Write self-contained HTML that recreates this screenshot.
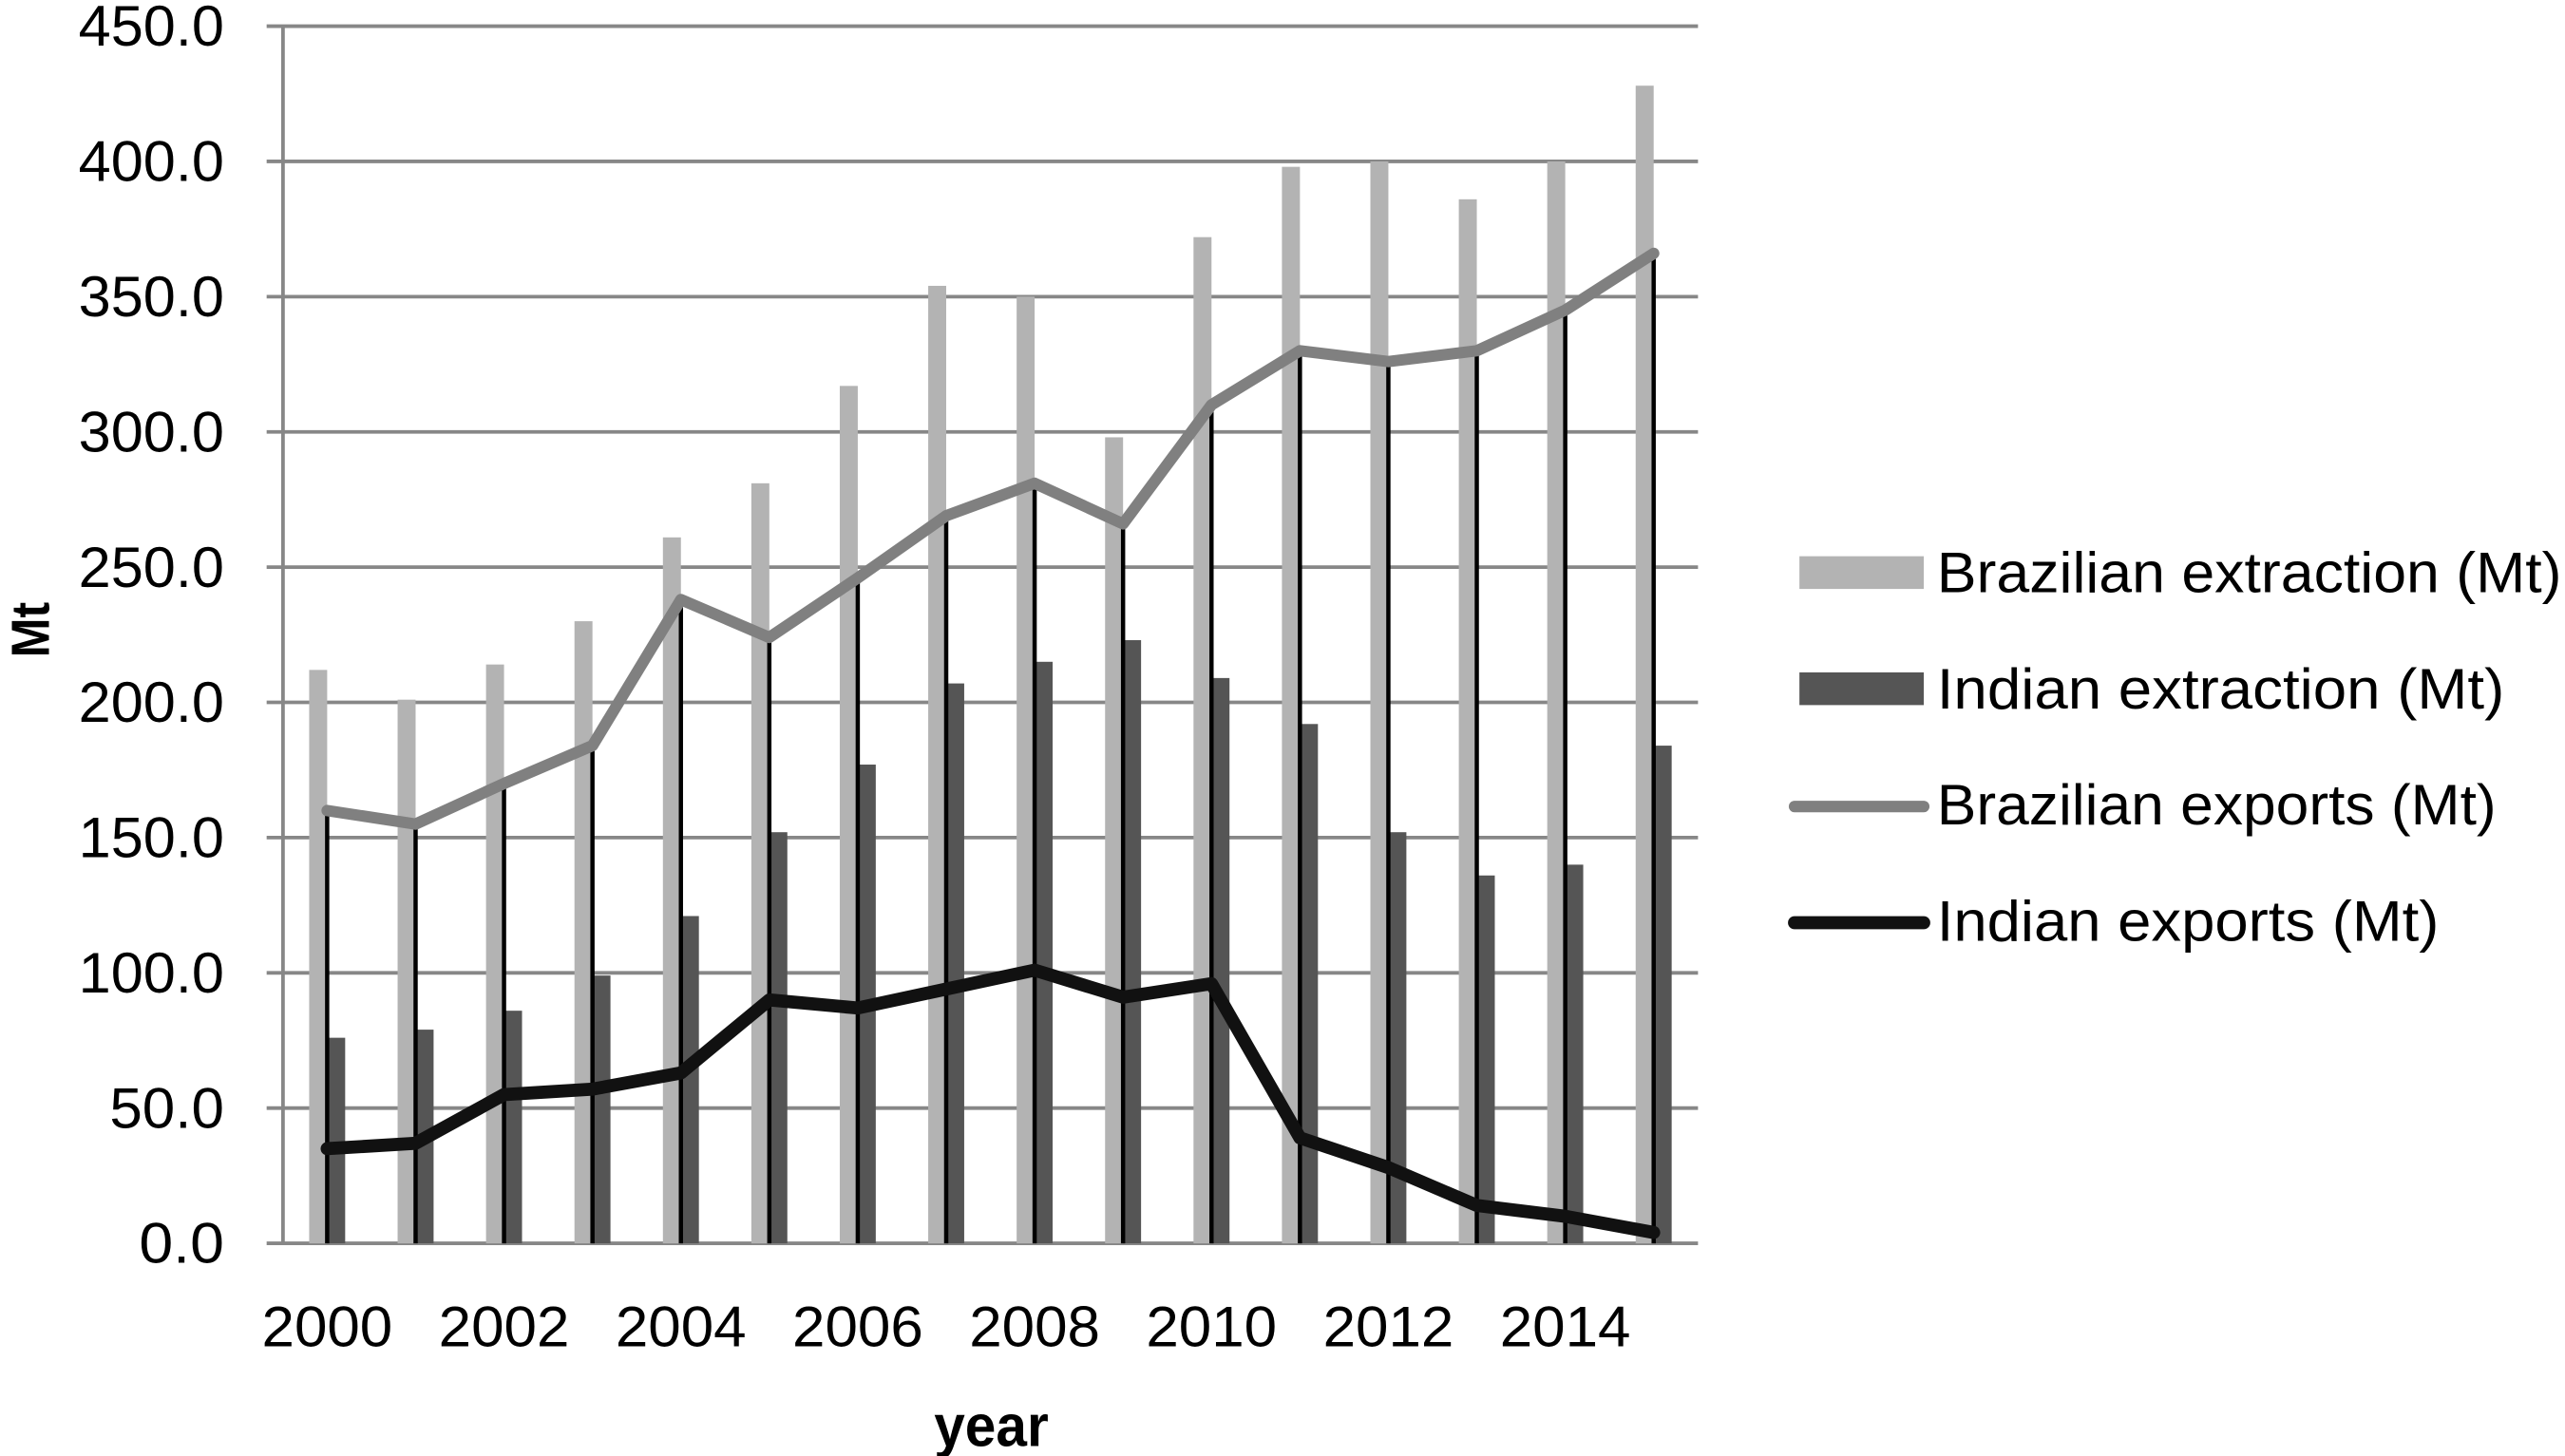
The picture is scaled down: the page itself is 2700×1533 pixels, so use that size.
<!DOCTYPE html>
<html><head><meta charset="utf-8"><style>html,body{margin:0;padding:0;background:#fff;}svg{display:block}</style></head>
<body>
<svg id="c" xmlns="http://www.w3.org/2000/svg" width="2700" height="1533" viewBox="0 0 1568 890" preserveAspectRatio="none" font-family="'Liberation Sans', sans-serif">
<g id="grid" stroke="#878787" stroke-width="2.2"></g>
<g id="bars"></g>
<g id="drops" stroke="#000" stroke-width="2.6"></g>
<polyline id="bre" fill="none" stroke="#808080" stroke-width="7" stroke-linejoin="round" stroke-linecap="round"/>
<polyline id="ine" fill="none" stroke="#111" stroke-width="8" stroke-linejoin="round" stroke-linecap="round"/>
<g id="ylab" font-size="35" fill="#000" text-anchor="end"></g>
<g id="xlab" font-size="35" fill="#000" text-anchor="middle"></g>
<text x="606" y="884" font-size="36" font-weight="bold" text-anchor="middle" textLength="70" lengthAdjust="spacingAndGlyphs">year</text>
<text transform="translate(30,385) rotate(-90)" font-size="33" font-weight="bold" text-anchor="middle" textLength="34" lengthAdjust="spacingAndGlyphs">Mt</text>
<rect x="1100" y="340" width="76" height="20" fill="#b3b3b3"/>
<rect x="1100" y="411" width="76" height="20" fill="#555"/>
<line x1="1097" y1="493" x2="1176" y2="493" stroke="#808080" stroke-width="7" stroke-linecap="round"/>
<line x1="1097" y1="564" x2="1176" y2="564" stroke="#111" stroke-width="8" stroke-linecap="round"/>
<g font-size="35" fill="#000">
<text x="1184" y="362" textLength="382" lengthAdjust="spacingAndGlyphs">Brazilian extraction (Mt)</text>
<text x="1184" y="433" textLength="347" lengthAdjust="spacingAndGlyphs">Indian extraction (Mt)</text>
<text x="1184" y="504" textLength="342" lengthAdjust="spacingAndGlyphs">Brazilian exports (Mt)</text>
<text x="1184" y="575" textLength="307" lengthAdjust="spacingAndGlyphs">Indian exports (Mt)</text>
</g>
</svg>
<script>
var NS="http://www.w3.org/2000/svg";
function el(p,t,a,txt){var e=document.createElementNS(NS,t);for(var k in a)e.setAttribute(k,a[k]);if(txt!=null)e.textContent=txt;document.getElementById(p).appendChild(e);return e;}
function Y(v){return 760-v*744/450;}
function CX(i){return 200+54.06*i;}
for(var k=0;k<=9;k++){var y=Y(k*50);el("grid","line",{x1:163,x2:1038,y1:y,y2:y});
 var s=(k*50).toFixed(1);var w=s.length==5?89:(s.length==4?70:52);
 el("ylab","text",{x:137,y:y+12,textLength:w,lengthAdjust:"spacingAndGlyphs"},s);}
el("grid","line",{x1:173,x2:173,y1:Y(450),y2:760});
var be=[212,201,214,230,261,281,317,354,350,298,372,398,400,386,400,428];
var ie=[76,79,86,99,121,152,177,207,215,223,209,192,152,136,140,184];
var bx=[160,155,170,184,238,224,246,269,281,266,310,330,326,330,345,366];
var ix=[35,37,55,57,63,90,87,94,101,91,96,39,28,14,10,4];
var p1=[],p2=[];
for(var i=0;i<16;i++){var c=CX(i);
 el("bars","rect",{x:c-11,y:Y(be[i]),width:11,height:760-Y(be[i]),fill:"#b3b3b3"});
 el("bars","rect",{x:c,y:Y(ie[i]),width:11,height:760-Y(ie[i]),fill:"#555"});
 el("drops","line",{x1:c,x2:c,y1:Y(bx[i]),y2:760});
 p1.push(c+","+Y(bx[i]));p2.push(c+","+Y(ix[i]));
 if(i%2==0)el("xlab","text",{x:c,y:823,textLength:80,lengthAdjust:"spacingAndGlyphs"},String(2000+i));}
document.getElementById("bre").setAttribute("points",p1.join(" "));
document.getElementById("ine").setAttribute("points",p2.join(" "));
</script>
</body></html>
